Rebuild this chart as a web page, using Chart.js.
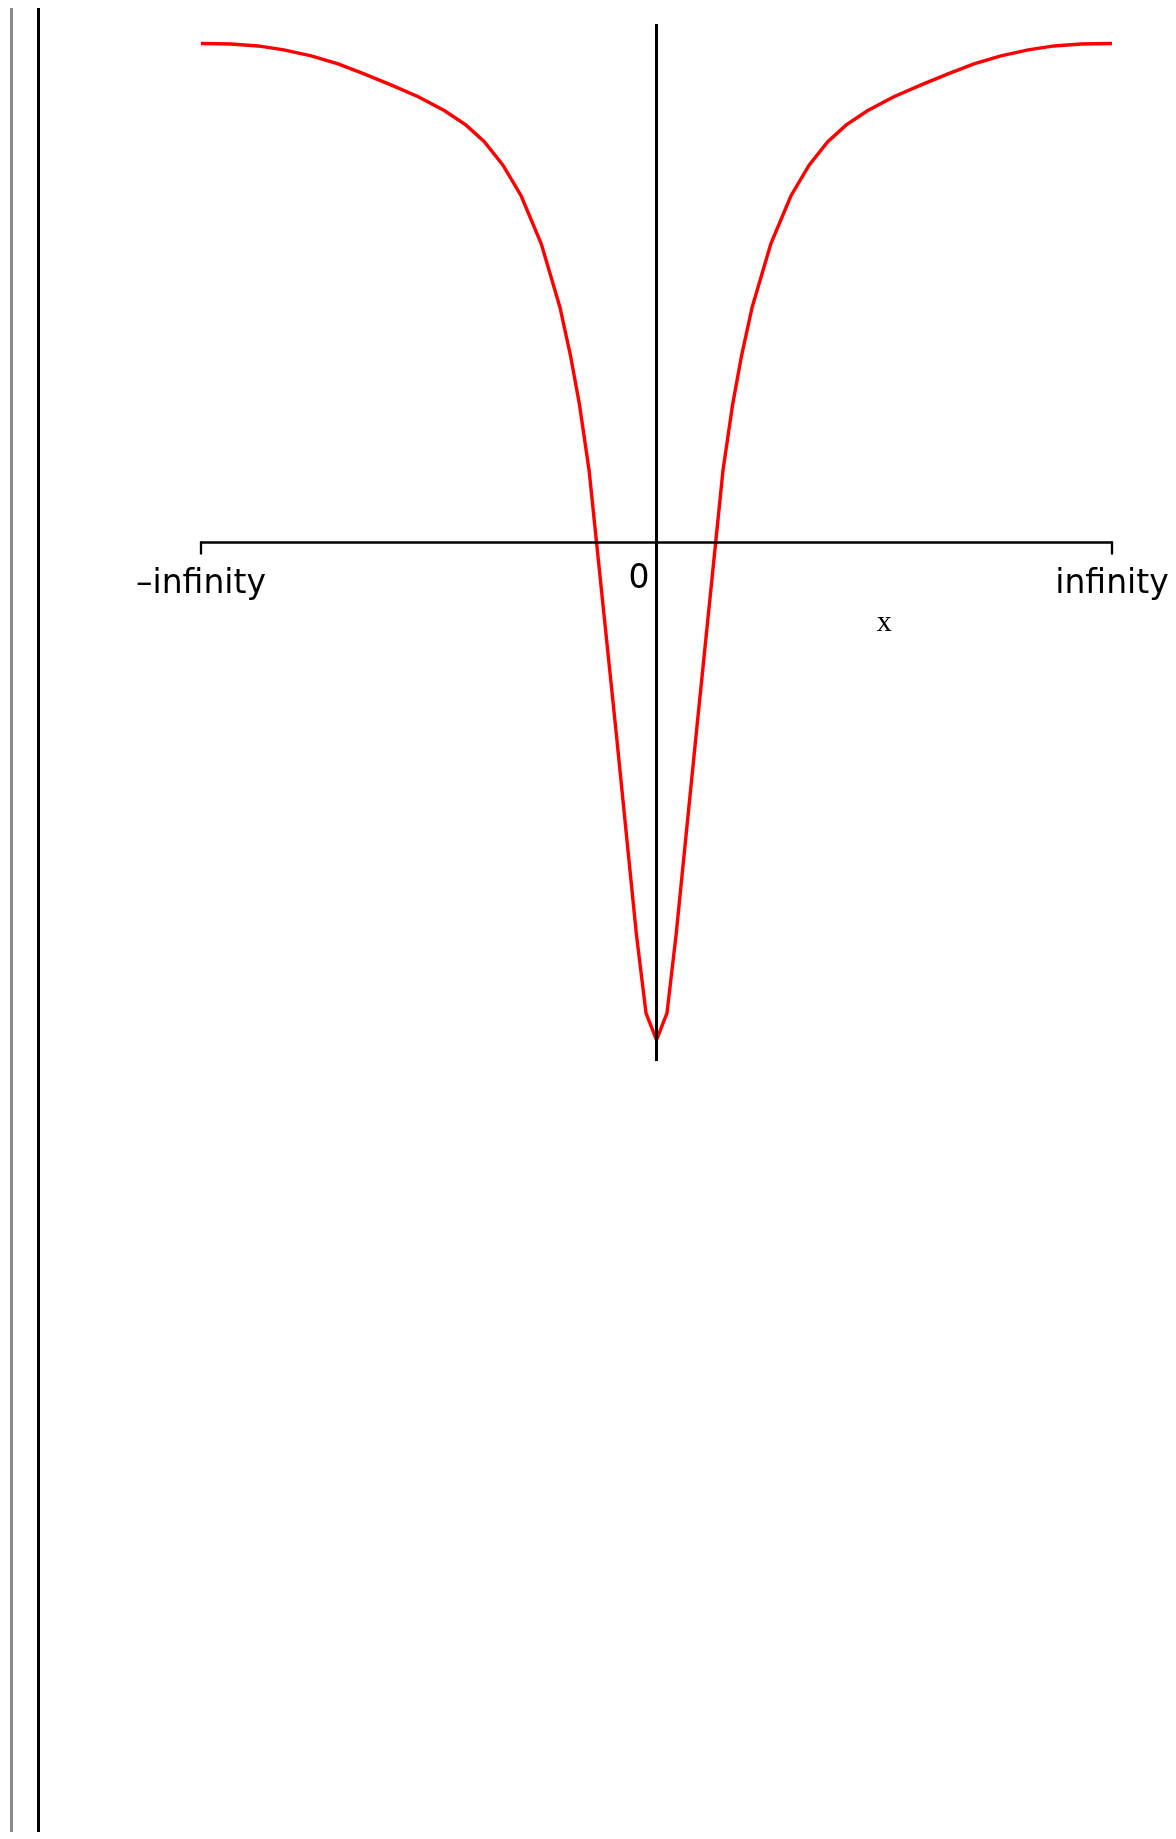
<!DOCTYPE html>
<html>
<head>
<meta charset="utf-8">
<title>Plot over an infinite range</title>
<script src="https://cdn.jsdelivr.net/npm/chart.js@4/dist/chart.umd.min.js"></script>
<style>
  html, body { margin: 0; padding: 0; background: #ffffff; overflow: hidden; }
  #wrap { position: relative; width: 1176px; height: 1839px; }
  #plot { position: absolute; left: 0; top: 0; }
  .rule { position: absolute; top: 8px; height: 1824px; }
  #ruleGray { left: 10px; width: 3px; background: #8a8a8a; }
  #ruleBlack { left: 37px; width: 3px; background: #000000; }
</style>
</head>
<body>
<div id="wrap">
  <div class="rule" id="ruleGray"></div>
  <div class="rule" id="ruleBlack"></div>
  <canvas id="plot" width="1176" height="1839"></canvas>
</div>
<script>
// Horizontal position is the compactified coordinate: -1 is -infinity, +1 is +infinity.
const xPositions = [
  -1.000, -0.934, -0.875, -0.818, -0.758, -0.699, -0.642, -0.583, -0.523, -0.465,
  -0.418, -0.378, -0.337, -0.297, -0.253, -0.212, -0.189, -0.169, -0.148, -0.088,
  -0.044, -0.023, 0.000,
  0.023, 0.043, 0.087, 0.146, 0.167, 0.187, 0.210, 0.251, 0.295, 0.335,
  0.376, 0.416, 0.463, 0.521, 0.581, 0.640, 0.697, 0.756, 0.816, 0.873,
  0.932, 1.000
];
const yValues = [
  1.001, 1.000, 0.996, 0.988, 0.976, 0.960, 0.940, 0.918, 0.894, 0.866,
  0.837, 0.804, 0.757, 0.695, 0.599, 0.472, 0.376, 0.276, 0.145, -0.386,
  -0.787, -0.944, -0.998,
  -0.944, -0.787, -0.386, 0.145, 0.276, 0.376, 0.472, 0.599, 0.695, 0.757,
  0.804, 0.837, 0.866, 0.894, 0.918, 0.940, 0.960, 0.976, 0.988, 0.996,
  1.000, 1.001
];
// Tick labels along the horizontal axis
const tickValues = [-1, 0, 1];
const tickLabels = ['\u2013infinity', '0', 'infinity'];
const axisTitle = 'x';

const points = xPositions.map((x, i) => ({ x: x, y: yValues[i] }));

const axesPlugin = {
  id: 'crossedAxes',
  afterDatasetsDraw(chart) {
    const ctx = chart.ctx;
    const xs = chart.scales.x;
    const ys = chart.scales.y;
    const y0 = ys.getPixelForValue(0);
    const x0 = xs.getPixelForValue(0);
    const xL = xs.getPixelForValue(-1);
    const xR = xs.getPixelForValue(1);
    ctx.save();
    ctx.strokeStyle = '#000000';
    ctx.lineCap = 'butt';

    // horizontal axis with end ticks
    ctx.lineWidth = 2.7;
    ctx.beginPath();
    ctx.moveTo(xL, y0);
    ctx.lineTo(xR, y0);
    ctx.stroke();
    ctx.lineWidth = 2.3;
    ctx.beginPath();
    ctx.moveTo(xL, y0 - 1.3);
    ctx.lineTo(xL, y0 + 12);
    ctx.moveTo(xR, y0 - 1.3);
    ctx.lineTo(xR, y0 + 12);
    ctx.stroke();

    // vertical axis
    ctx.lineWidth = 3;
    ctx.beginPath();
    ctx.moveTo(x0, ys.getPixelForValue(ys.max));
    ctx.lineTo(x0, ys.getPixelForValue(ys.min));
    ctx.stroke();

    // tick labels
    ctx.fillStyle = '#000000';
    ctx.font = '33px "DejaVu Sans", sans-serif';
    ctx.textBaseline = 'alphabetic';
    tickValues.forEach((v, i) => {
      const px = xs.getPixelForValue(v);
      if (v === 0) {
        ctx.textAlign = 'right';
        ctx.fillText(tickLabels[i], px - 7, y0 + 45);
      } else {
        ctx.textAlign = 'center';
        ctx.fillText(tickLabels[i], px, y0 + 50);
      }
    });

    // axis title
    ctx.font = '30px "Liberation Serif", "Times New Roman", serif';
    ctx.textAlign = 'center';
    ctx.fillText(axisTitle, xs.getPixelForValue(0.5), y0 + 88);
    ctx.restore();
  }
};

new Chart(document.getElementById('plot'), {
  type: 'scatter',
  data: {
    datasets: [{
      data: points,
      showLine: true,
      borderColor: '#ff0000',
      borderWidth: 3.4,
      pointRadius: 0,
      tension: 0,
      fill: false
    }]
  },
  options: {
    responsive: false,
    animation: false,
    events: [],
    layout: { padding: { left: 201, right: 64, top: 24, bottom: 778 } },
    plugins: { legend: { display: false }, tooltip: { enabled: false } },
    scales: {
      x: { type: 'linear', min: -1, max: 1, display: false },
      y: { type: 'linear', min: -1.04, max: 1.04, display: false }
    }
  },
  plugins: [axesPlugin]
});
</script>
</body>
</html>
